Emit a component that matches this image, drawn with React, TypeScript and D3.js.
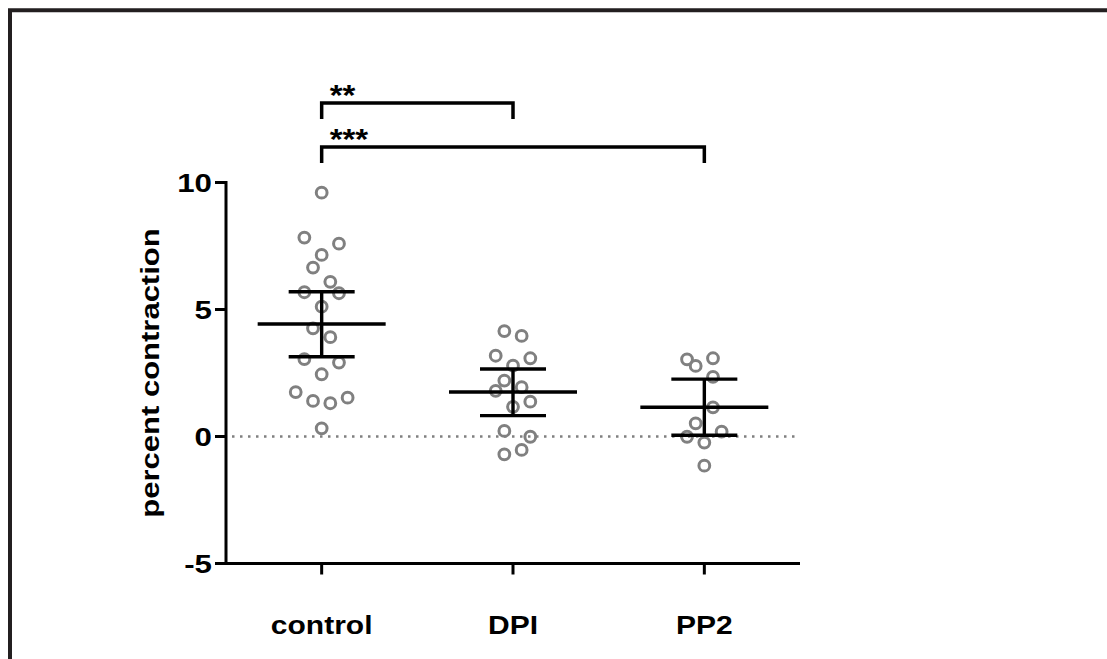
import { useEffect, useRef } from "react";
import * as d3 from "d3";

// groups on the x axis
const groups = ["control", "DPI", "PP2"];

// individual measurements (percent contraction)
const controlValues = [9.6, 7.83, 7.59, 7.15, 6.65, 6.09, 5.68, 5.64, 5.11, 4.26, 3.91, 3.05, 2.91, 2.45, 1.75, 1.4, 1.31, 1.53, 0.32];
const dpiValues = [4.15, 3.96, 3.18, 3.08, 2.79, 2.2, 1.94, 1.8, 1.37, 1.17, 0.22, -0.01, -0.53, -0.7];
const pp2Values = [3.04, 3.08, 2.78, 2.35, 1.15, 0.52, -0.01, 0.19, -0.24, -1.15];

// horizontal jitter slot of each point (in point-widths from the centre)
const controlSlots = [0, -1, 1, 0, -0.5, 0.5, -1, 1, 0, -0.5, 0.5, -1, 1, 0, -1.5, -0.5, 0.5, 1.5, 0];
const dpiSlots = [-0.5, 0.5, -1, 1, 0, -0.5, 0.5, -1, 1, 0, -0.5, 1, 0.5, -0.5];
const pp2Slots = [-1, 0.5, -0.5, 0.5, 0.5, -0.5, -1, 1, 0, 0];

// mean and 95% CI
const means = [4.43, 1.75, 1.15];
const ciLow = [3.14, 0.82, 0.05];
const ciHigh = [5.7, 2.66, 2.26];

const yTicks = [-5, 0, 5, 10];

// significance brackets
const brackets = [
  { from: "control", to: "DPI", label: "**", level: 0 },
  { from: "control", to: "PP2", label: "***", level: 1 },
];

export default function App() {
  const ref = useRef<SVGSVGElement>(null);

  useEffect(() => {
    const width = 1107;
    const height = 659;
    const axisLeft = 226;
    const axisRight = 800;

    const svg = d3.select(ref.current);
    svg.selectAll("*").remove();
    svg
      .attr("width", width)
      .attr("height", height)
      .attr("viewBox", [0, 0, width, height])
      .style("font-family", "'Liberation Sans', Arial, sans-serif")
      .style("font-weight", "bold");

    // frame (only the top and left edges are in view)
    svg.append("path")
      .attr("d", `M10,${height} V10.3 H${width}`)
      .attr("fill", "none")
      .attr("stroke", "#231f20")
      .attr("stroke-width", 4);

    const x = d3.scalePoint<string>()
      .domain(groups)
      .range([axisLeft, axisRight])
      .padding(0.5);

    const y = d3.scaleLinear()
      .domain([-5, 10])
      .range([563.5, 182.5]);

    // zero reference line
    svg.append("line")
      .attr("x1", axisLeft + 6)
      .attr("x2", axisRight)
      .attr("y1", y(0))
      .attr("y2", y(0))
      .attr("stroke", "#808080")
      .attr("stroke-width", 2.5)
      .attr("stroke-dasharray", "2.5 5.5");

    // y axis
    const yAxis = svg.append("g").attr("transform", `translate(${axisLeft},0)`);
    yAxis.append("line")
      .attr("y1", y(10) - 1.5)
      .attr("y2", y(-5) + 1.5)
      .attr("stroke", "#000")
      .attr("stroke-width", 3);
    const yt = yAxis.selectAll("g.tick")
      .data(yTicks)
      .join("g")
      .attr("class", "tick")
      .attr("transform", d => `translate(0,${y(d)})`);
    yt.append("line")
      .attr("x1", -11)
      .attr("x2", 0)
      .attr("stroke", "#000")
      .attr("stroke-width", 3);
    yt.append("text")
      .attr("transform", "translate(-14,0) scale(1.25,1)")
      .attr("text-anchor", "end")
      .attr("dy", "0.36em")
      .attr("font-size", 25)
      .text(d => d);

    // x axis
    const xAxis = svg.append("g").attr("transform", `translate(0,${y(-5)})`);
    xAxis.append("line")
      .attr("x1", axisLeft - 1.5)
      .attr("x2", axisRight)
      .attr("stroke", "#000")
      .attr("stroke-width", 3);
    const xt = xAxis.selectAll("g.tick")
      .data(groups)
      .join("g")
      .attr("class", "tick")
      .attr("transform", d => `translate(${x(d)},0)`);
    xt.append("line")
      .attr("y1", 0)
      .attr("y2", 11)
      .attr("stroke", "#000")
      .attr("stroke-width", 3);
    xt.append("text")
      .attr("transform", "translate(0,70) scale(1.2,1)")
      .attr("text-anchor", "middle")
      .attr("font-size", 25)
      .text(d => d);

    // y axis title
    svg.append("text")
      .attr("transform", `translate(159,${(y(10) + y(-5)) / 2}) rotate(-90) scale(1.24,1)`)
      .attr("text-anchor", "middle")
      .attr("font-size", 25)
      .text("percent contraction");

    // points
    const series = [
      { name: "control", values: controlValues, slots: controlSlots },
      { name: "DPI", values: dpiValues, slots: dpiSlots },
      { name: "PP2", values: pp2Values, slots: pp2Slots },
    ];
    const pointStep = 17.3;
    svg.append("g")
      .selectAll("circle")
      .data(series.flatMap(s => s.values.map((v, i) => ({ name: s.name, v, slot: s.slots[i] }))))
      .join("circle")
      .attr("cx", d => x(d.name)! + d.slot * pointStep)
      .attr("cy", d => y(d.v))
      .attr("r", 5.4)
      .attr("fill", "none")
      .attr("stroke", "#808080")
      .attr("stroke-width", 3);

    // mean and CI bars
    const bars = svg.append("g")
      .attr("stroke", "#000")
      .attr("stroke-width", 3.4)
      .selectAll("g")
      .data(groups)
      .join("g")
      .attr("transform", d => `translate(${x(d)},0)`);
    bars.append("line")
      .attr("x1", -64)
      .attr("x2", 64)
      .attr("y1", (d, i) => y(means[i]))
      .attr("y2", (d, i) => y(means[i]));
    bars.append("line")
      .attr("y1", (d, i) => y(ciLow[i]))
      .attr("y2", (d, i) => y(ciHigh[i]));
    bars.append("line")
      .attr("x1", -33)
      .attr("x2", 33)
      .attr("y1", (d, i) => y(ciHigh[i]))
      .attr("y2", (d, i) => y(ciHigh[i]));
    bars.append("line")
      .attr("x1", -33)
      .attr("x2", 33)
      .attr("y1", (d, i) => y(ciLow[i]))
      .attr("y2", (d, i) => y(ciLow[i]));

    // significance brackets
    const br = svg.append("g")
      .selectAll("g")
      .data(brackets)
      .join("g")
      .attr("transform", d => `translate(0,${103 + d.level * 44})`);
    br.append("path")
      .attr("d", d => `M${x(d.from)},16 V0 H${x(d.to)} V16`)
      .attr("fill", "none")
      .attr("stroke", "#000")
      .attr("stroke-width", 3.5);
    br.append("text")
      .attr("transform", d => `translate(${x(d.from)! + 8},2) scale(1.1,1)`)
      .attr("font-size", 30)
      .text(d => d.label);
  }, []);

  return (
    <svg ref={ref} style={{ position: "absolute", left: 0, top: 0, background: "#fff" }} />
  );
}
